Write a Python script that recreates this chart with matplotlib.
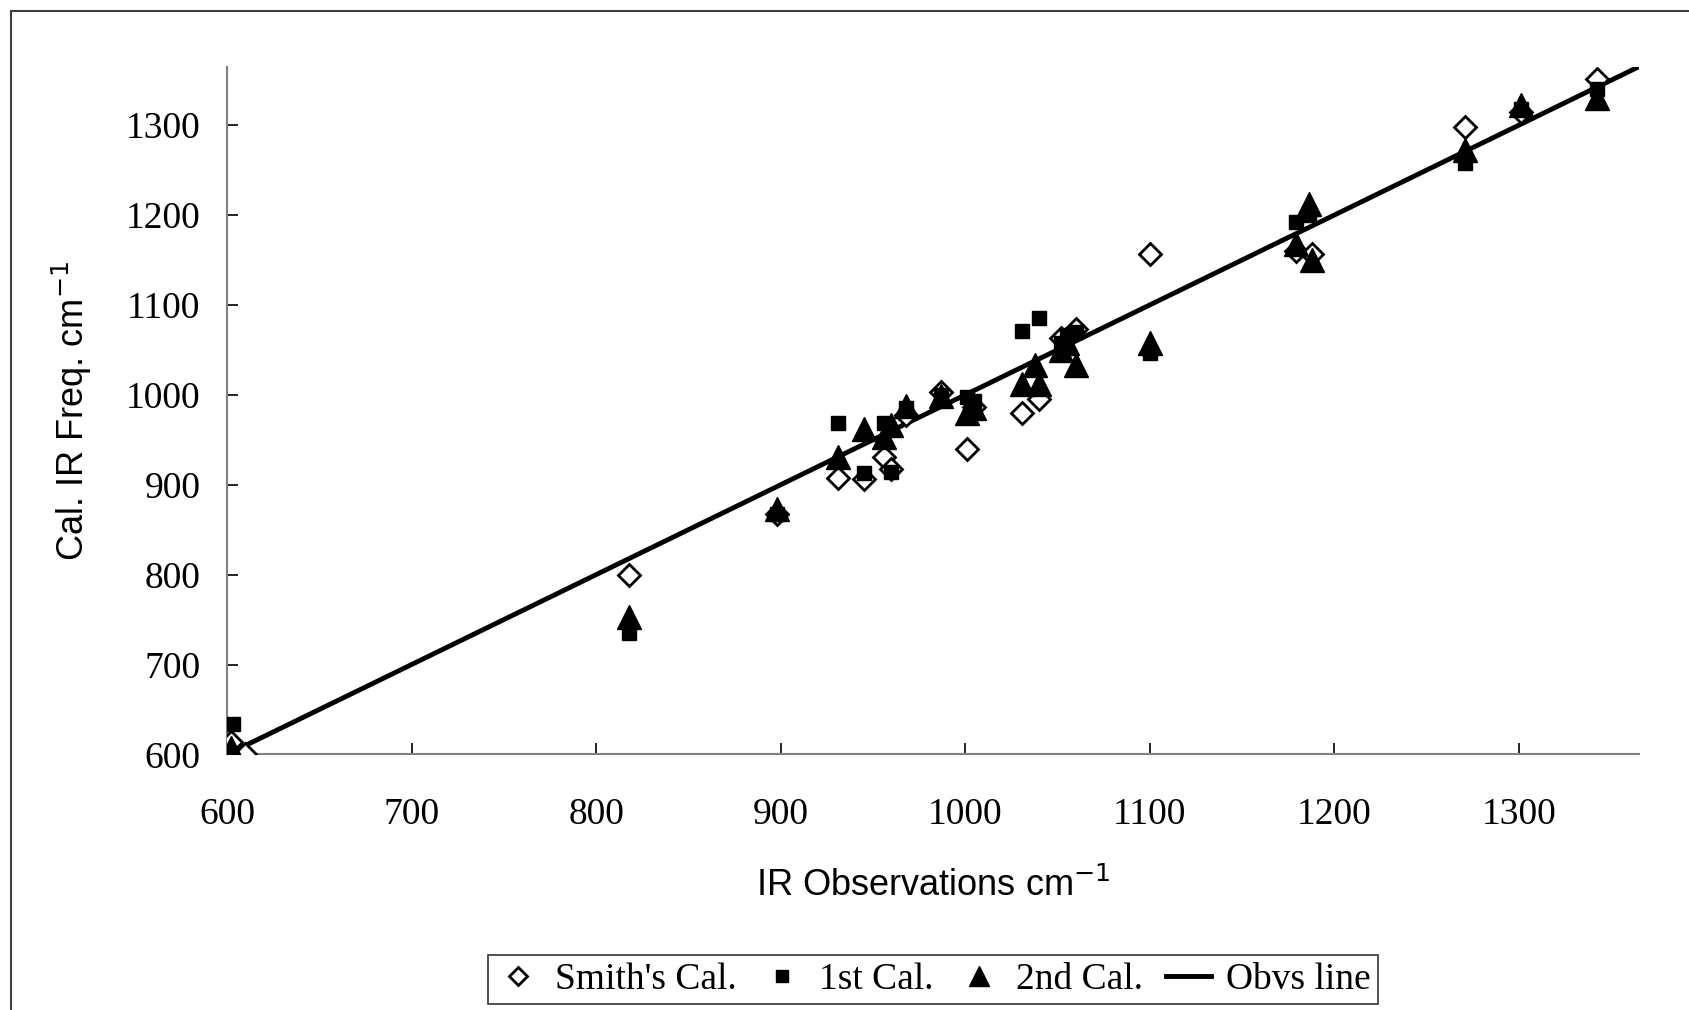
import matplotlib.pyplot as plt
from matplotlib.patches import Rectangle

# Smith's calculation (open diamonds)
smith_x = [602, 610, 818, 898, 931, 945, 956, 960, 968, 987, 1001, 1005, 1031, 1040,
           1052, 1060, 1100, 1179, 1188, 1271, 1301, 1342]
smith_y = [614, 600, 800, 868, 907, 906, 931, 918, 978, 1003, 940, 987, 980, 995,
           1063, 1073, 1157, 1160, 1157, 1298, 1315, 1351]

# 1st calculation (filled squares)
cal1_x = [603, 818, 898, 931, 945, 956, 960, 968, 987, 1001, 1005, 1031, 1040, 1052,
          1055, 1060, 1100, 1179, 1186, 1271, 1301, 1342]
cal1_y = [634, 735, 868, 969, 913, 969, 914, 985, 1000, 998, 993, 1071, 1086, 1058,
          1066, 1070, 1047, 1192, 1200, 1258, 1318, 1340]

# 2nd calculation (filled triangles)
cal2_x = [602, 818, 898, 931, 945, 956, 960, 968, 987, 1001, 1005, 1031, 1038, 1040,
          1052, 1055, 1060, 1100, 1179, 1186, 1188, 1271, 1301, 1342]
cal2_y = [607, 753, 873, 931, 962, 953, 966, 988, 999, 980, 985, 1012, 1033, 1012,
          1050, 1058, 1033, 1058, 1168, 1212, 1150, 1272, 1322, 1330]

# observation line y = x
line_x = [600, 1365]
line_y = [600, 1365]

serif = 'Liberation Serif'
sans = 'Liberation Sans'

fig = plt.figure(figsize=(16.9, 10.1), dpi=100)
ax = fig.add_axes([0.1343, 0.253, 0.8355, 0.681])

ax.plot(line_x, line_y, color='black', lw=3.5, label='Obvs line', zorder=2)
ax.plot(smith_x, smith_y, ls='none', marker='D', ms=11, mfc='white', mec='black',
        mew=2, label="Smith's Cal.", zorder=3)
ax.plot(cal1_x, cal1_y, ls='none', marker='s', ms=10, color='black',
        label='1st Cal.', zorder=4)
ax.plot(cal2_x, cal2_y, ls='none', marker='^', ms=17, color='black',
        label='2nd Cal.', zorder=5)

ax.set_xlim(600, 1365)
ax.set_ylim(600, 1365)
ax.set_xticks(range(600, 1301, 100))
ax.set_yticks(range(600, 1301, 100))

for s in ['top', 'right']:
    ax.spines[s].set_visible(False)
for s in ['left', 'bottom']:
    ax.spines[s].set_color('#808080')
    ax.spines[s].set_linewidth(1.5)

ax.tick_params(axis='x', direction='in', length=8, width=1.2, color='black', pad=31)
ax.tick_params(axis='y', direction='in', length=8, width=1.2, color='black', pad=19)
for lab in ax.get_xticklabels() + ax.get_yticklabels():
    lab.set_fontfamily(serif)
    lab.set_fontsize(27)

ax.set_xlabel('IR Observations cm$^{-1}$', fontfamily=sans, fontsize=26)
ax.set_ylabel('Cal. IR Freq. cm$^{-1}$', fontfamily=sans, fontsize=26)
ax.xaxis.set_label_coords(0.5, -0.165)
ax.yaxis.set_label_coords(-0.094, 0.5)

handles, labels = ax.get_legend_handles_labels()
order = [1, 2, 3, 0]
leg = fig.legend([handles[i] for i in order], [labels[i] for i in order],
                 loc='center', bbox_to_anchor=(0.552, 0.0302), ncol=4,
                 prop={'family': serif, 'size': 27}, frameon=True, fancybox=False,
                 edgecolor='black', handlelength=1.2, handletextpad=0.4,
                 columnspacing=0.6, borderpad=0.2, markerscale=0.85)
leg.get_frame().set_linewidth(1.2)

# outer chart border
fig.patches.append(Rectangle((11 / 1690, -0.1), 1.2, 1.1 - 11 / 1010,
                             transform=fig.transFigure, fill=False,
                             edgecolor='#404040', lw=1.5))

fig.savefig('out.png', dpi=100)
